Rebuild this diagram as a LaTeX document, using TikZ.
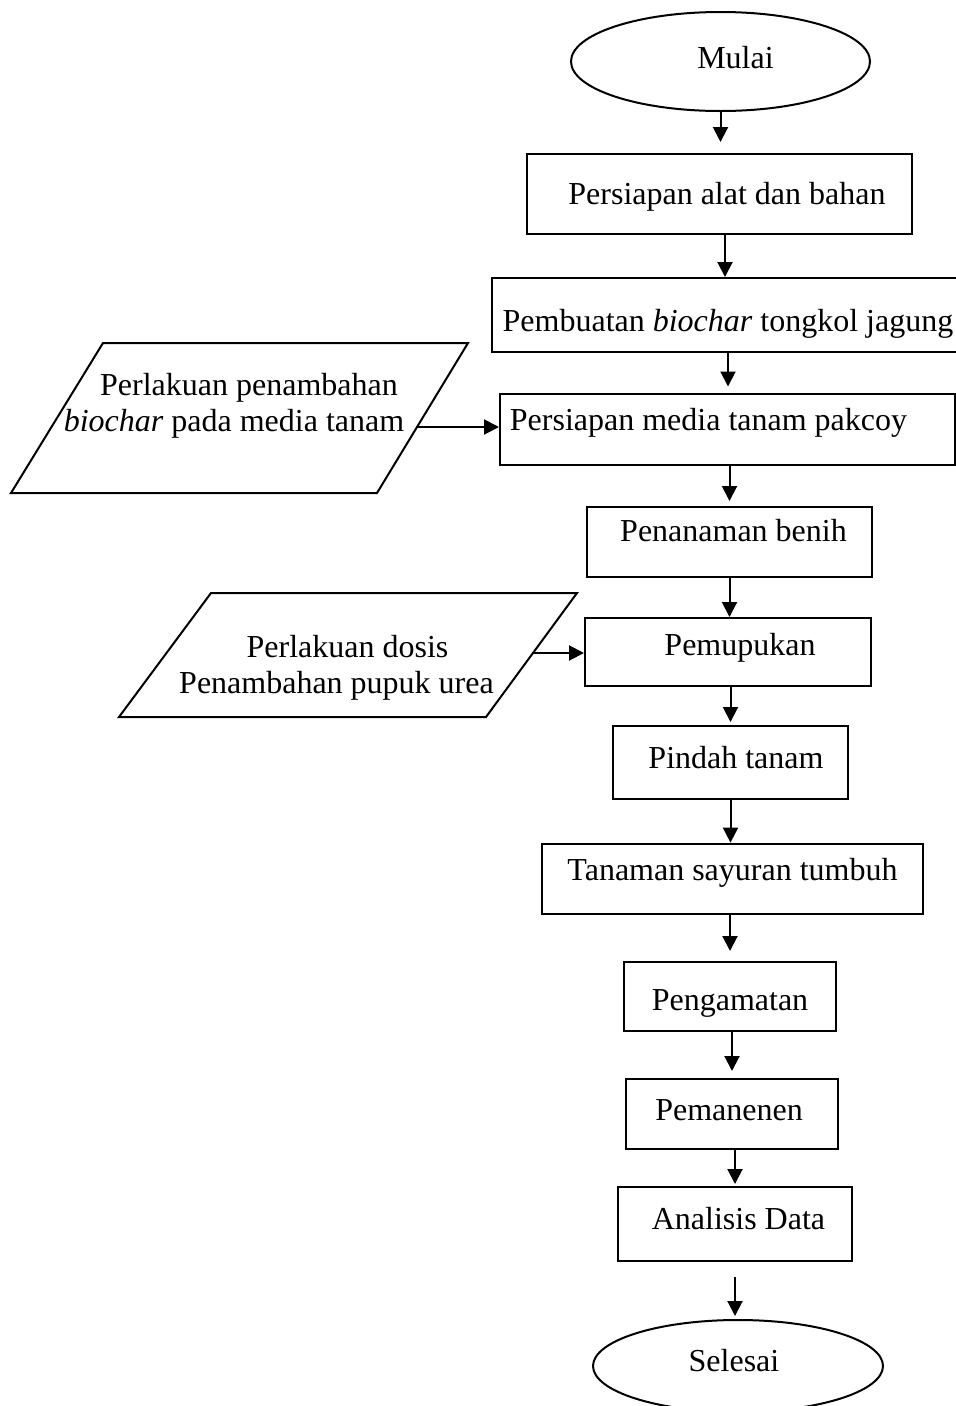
\documentclass[tikz,border=0pt]{standalone}
\usepackage{fontspec}
\setmainfont{Liberation Serif}
\usetikzlibrary{arrows.meta,shapes.geometric}

\tikzset{
	box/.style={draw,line width=2pt,rectangle,inner sep=0pt,text height=24pt,text depth=10pt},
	term/.style={draw,line width=2pt,ellipse,inner sep=0pt,text height=24pt,text depth=10pt},
	io/.style={draw,line width=2pt},
	iotext/.style={align=center,inner sep=0pt},
	arr/.style={line width=2pt,-{Triangle[length=15pt,width=15pt]}}
}

\begin{document}
\begin{tikzpicture}[x=1pt,y=-1pt,font=\fontsize{32}{36}\selectfont]
		\useasboundingbox (0,0) rectangle (956,1406);
		\clip (0,0) rectangle (956,1406);

		\node[term,minimum width=299,minimum height=99] (mulai) at (720.5,61.5){\hspace*{30pt}Mulai};
		\node[box,minimum width=385,minimum height=80,text height=30pt] (alat) at (719.5,194){\hspace*{15pt}Persiapan alat dan bahan};
		\node[box,minimum width=472,minimum height=74,text height=42pt] (biochar) at (728,315){Pembuatan \textit{biochar} tongkol jagung};
		\node[box,minimum width=455,minimum height=71,text height=12pt] (media) at (727.5,429){Persiapan media tanam pakcoy\hspace*{38pt}};
		\node[box,minimum width=285,minimum height=70,text height=9.4pt] (benih) at (729.5,542){\hspace*{8pt}Penanaman benih};
		\node[box,minimum width=286,minimum height=68,text height=16pt] (pupuk) at (728,652){\hspace*{24pt}Pemupukan};
		\node[box,minimum width=235,minimum height=73,text height=21pt] (pindah) at (730.5,762.5){\hspace*{11pt}Pindah tanam};
		\node[box,line width=2.8pt,minimum width=381,minimum height=70,text height=12pt] (tumbuh) at (732.5,879){Tanaman sayuran tumbuh};
		\node[box,minimum width=212,minimum height=69,text height=37pt] (amat) at (730,996.5){Pengamatan};
		\node[box,minimum width=212,minimum height=70,text height=22pt] (panen) at (732,1114){Pemanenen\hspace*{6pt}};
		\node[box,minimum width=234,minimum height=74,text height=21pt] (analisis) at (735,1224){\hspace*{7pt}Analisis Data};
		\node[term,minimum width=290,minimum height=92,text height=21.4pt] (selesai) at (738,1366){Selesai\hspace*{8pt}};

		\draw[io] (103,343)--(468,343)--(377,493)--(11,493)--cycle;
		\node[iotext] (biocharin) at (234,405.5){\hspace*{30pt}Perlakuan penambahan\\\textit{biochar} pada media tanam};
		\coordinate (biocharout) at (417,427);

		\draw[io] (211,593)--(577,593)--(486,717)--(119,717)--cycle;
		\node[iotext] (ureain) at (336.5,667.5){\hspace*{22pt}Perlakuan dosis\\Penambahan pupuk urea};
		\coordinate (ureaout) at (532,653);

		\draw[arr,shorten >=11pt] (mulai.south)--(mulai.south |- alat.north);
		\draw[arr] ([xshift=5.5pt]alat.south)--([xshift=5.5pt]alat.south |- biochar.north);
		\draw[arr,shorten >=6pt] (biochar.south)--(biochar.south |- media.north);
		\draw[arr,shorten >=5pt] (benih.north |- media.south)--(benih.north);
		\draw[arr] (benih.south)--(benih.south |- pupuk.north);
		\draw[arr,shorten >=3pt] (pindah.north |- pupuk.south)--(pindah.north);
		\draw[arr] (pindah.south)--(pindah.south |- tumbuh.north);
		\draw[arr,shorten >=10pt] (amat.north |- tumbuh.south)--(amat.north);
		\draw[arr,shorten >=7pt] (panen.north |- amat.south)--(panen.north);
		\draw[arr,shorten >=2pt] (analisis.north |- panen.south)--(analisis.north);
		\draw[arr,shorten <=15pt,shorten >=3pt] (analisis.south)--(analisis.south |- selesai.north);

		\draw[arr] (biocharout)--(biocharout -| media.west);
		\draw[arr] (ureaout)--(ureaout -| pupuk.west);
	\end{tikzpicture}
\end{document}
